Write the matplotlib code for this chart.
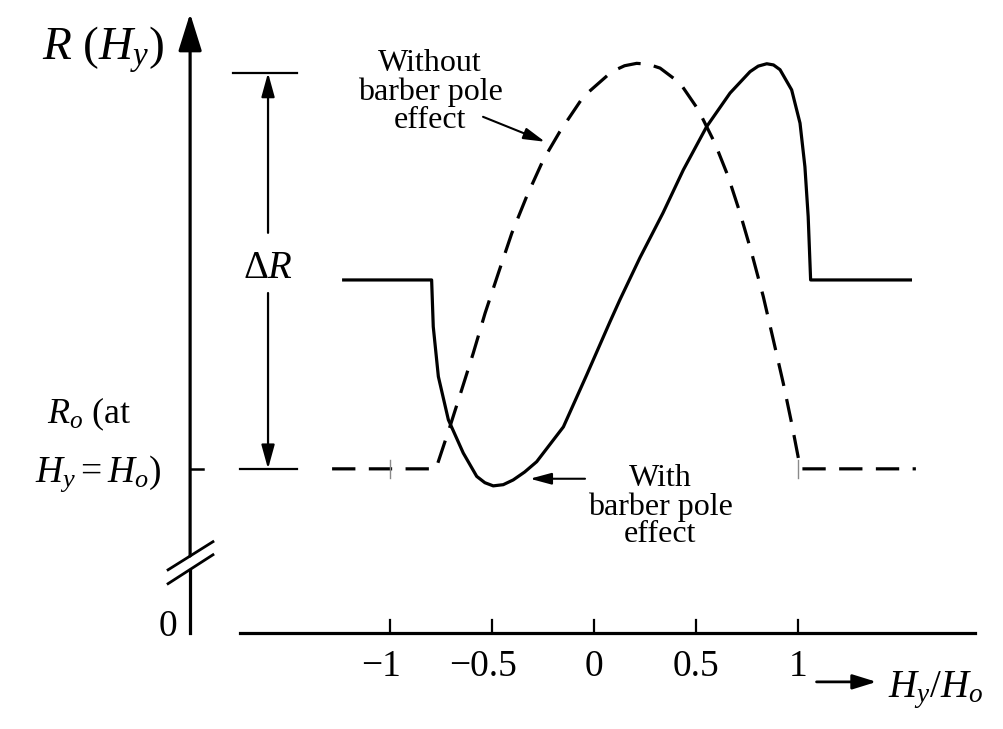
import matplotlib
matplotlib.use("Agg")
import matplotlib.pyplot as plt
from matplotlib.transforms import ScaledTranslation

plt.rcParams["font.family"] = ["Liberation Serif", "DejaVu Serif"]
plt.rcParams["mathtext.fontset"] = "custom"
plt.rcParams["mathtext.rm"] = "Liberation Serif"
plt.rcParams["mathtext.it"] = "Liberation Serif:italic"
plt.rcParams["mathtext.bf"] = "Liberation Serif:bold"

# x = Hy/Ho, y = (R - Ro) / deltaR
with_x = [-1.235, -0.796, -0.788, -0.763, -0.714, -0.641, -0.575, -0.535,
          -0.494, -0.445, -0.396, -0.340, -0.281, -0.150, -0.036, 0.078,
          0.127, 0.225, 0.338, 0.438, 0.552, 0.667, 0.765, 0.805, 0.847,
          0.880, 0.912, 0.969, 1.010, 1.034, 1.050, 1.062, 1.559]
with_y = [0.477, 0.477, 0.359, 0.233, 0.124, 0.040, -0.019, -0.035,
          -0.043, -0.040, -0.028, -0.008, 0.018, 0.106, 0.237, 0.371,
          0.427, 0.533, 0.646, 0.755, 0.864, 0.949, 1.003, 1.017, 1.023,
          1.020, 1.008, 0.957, 0.873, 0.763, 0.637, 0.477, 0.477]

without_x = [-1.284, -0.775, -0.706, -0.649, -0.592, -0.534, -0.469, -0.403,
             -0.330, -0.249, -0.167, -0.052, 0.087, 0.150, 0.209, 0.265,
             0.324, 0.422, 0.511, 0.593, 0.658, 0.716, 0.773, 0.830, 0.879,
             0.928, 0.969, 1.002, 1.010, 1.578]
without_y = [0.0, 0.0, 0.107, 0.199, 0.292, 0.393, 0.494, 0.595,
             0.688, 0.780, 0.852, 0.940, 1.003, 1.018, 1.024, 1.022,
             1.012, 0.974, 0.907, 0.822, 0.738, 0.646, 0.545, 0.435, 0.326,
             0.216, 0.115, 0.027, 0.0, 0.0]

tick_values = [-1, -0.5, 0, 0.5, 1]
tick_labels = ["\u22121", "\u22120.5", "0", "0.5", "1"]

fig = plt.figure(figsize=(10.04, 7.29), dpi=100)
ax = fig.add_axes([0, 0, 1, 1])
ax.set_xlim(-2.912, 2.010)
ax.set_ylim(-0.657, 1.184)
ax.axis("off")

lw = 2.3
ax.plot(with_x, with_y, color="black", lw=lw, solid_capstyle="butt",
        solid_joinstyle="round")
ax.plot(without_x, without_y, color="black", lw=lw, dashes=(7.3, 4.2))

# small grey marks on the Ro level
for xv in [-1, 1]:
    ax.plot([xv, xv], [-0.023, 0.023], color="#8a8a8a", lw=1.0)

# x axis
x_axis_y = -0.414
ax.plot([-1.735, 1.868], [x_axis_y, x_axis_y], color="black", lw=lw)
for xv in tick_values:
    ax.plot([xv, xv], [x_axis_y, -0.381], color="black", lw=1.6)
for xv, lab in zip(tick_values, tick_labels):
    tr = ax.transData
    if lab.startswith("\u2212"):
        tr = tr + ScaledTranslation(-0.09, 0, fig.dpi_scale_trans)
    ax.text(xv, -0.5, lab, fontsize=27, ha="center", va="center", transform=tr)

ax.annotate("", xy=(1.385, -0.538), xytext=(1.091, -0.538),
            arrowprops=dict(arrowstyle="-|>,head_length=1.45,head_width=0.45",
                            color="black", lw=2.0, shrinkA=0, shrinkB=0,
                            mutation_scale=10))
ax.text(1.441, -0.576, r"$H_y/H_o$", fontsize=28, ha="left", va="baseline")

# y axis with break
y_axis_x = -1.980
ax.plot([y_axis_x, y_axis_x], [x_axis_y, -0.256], color="black", lw=lw)
ax.annotate("", xy=(y_axis_x, 1.150), xytext=(y_axis_x, -0.220),
            arrowprops=dict(arrowstyle="-|>,head_length=2.3,head_width=0.72",
                            color="black", lw=lw, shrinkA=0, shrinkB=0,
                            mutation_scale=10))
ax.plot([-2.088, -1.868], [-0.255, -0.184], color="black", lw=2.0)
ax.plot([-2.088, -1.868], [-0.290, -0.217], color="black", lw=2.0)
ax.plot([y_axis_x, -1.917], [0.0, 0.0], color="black", lw=1.8)
ax.text(-2.088, -0.40, "0", fontsize=27, ha="center", va="center")

ax.text(-2.407, 1.033, r"$R\ (H_y)$", fontsize=34, ha="center", va="baseline")
ax.text(-2.475, 0.116, r"$R_o$ (at", fontsize=26, ha="center", va="baseline")
ax.text(-2.432, -0.033, r"$H_y = H_o$)", fontsize=27, ha="center", va="baseline")

# delta R bracket
dr_x = -1.598
ax.plot([-1.770, -1.456], [1.0, 1.0], color="black", lw=1.6)
ax.plot([-1.735, -1.456], [0.0, 0.0], color="black", lw=1.6)
ax.annotate("", xy=(dr_x, 1.0), xytext=(dr_x, 0.596),
            arrowprops=dict(arrowstyle="-|>,head_length=1.45,head_width=0.4",
                            color="black", lw=1.6, shrinkA=0, shrinkB=0,
                            mutation_scale=10))
ax.annotate("", xy=(dr_x, 0.0), xytext=(dr_x, 0.444),
            arrowprops=dict(arrowstyle="-|>,head_length=1.45,head_width=0.4",
                            color="black", lw=1.6, shrinkA=0, shrinkB=0,
                            mutation_scale=10))
ax.text(dr_x, 0.482, "\u0394" + r"$R$", fontsize=28, ha="center", va="baseline")

# curve labels
ax.text(-0.804, 0.952, "Without\nbarber pole\neffect", fontsize=23,
        ha="center", va="center", multialignment="center", linespacing=0.95)
ax.annotate("", xy=(-0.240, 0.826), xytext=(-0.544, 0.889),
            arrowprops=dict(arrowstyle="-|>,head_length=1.3,head_width=0.35",
                            color="black", lw=1.5, shrinkA=0, shrinkB=0,
                            mutation_scale=10))
ax.text(0.324, -0.096, "With\nbarber pole\neffect", fontsize=23,
        ha="center", va="center", multialignment="center", linespacing=0.95)
ax.annotate("", xy=(-0.314, -0.025), xytext=(-0.044, -0.025),
            arrowprops=dict(arrowstyle="-|>,head_length=1.3,head_width=0.35",
                            color="black", lw=1.5, shrinkA=0, shrinkB=0,
                            mutation_scale=10))

fig.savefig("out.png", dpi=100, facecolor="white")
